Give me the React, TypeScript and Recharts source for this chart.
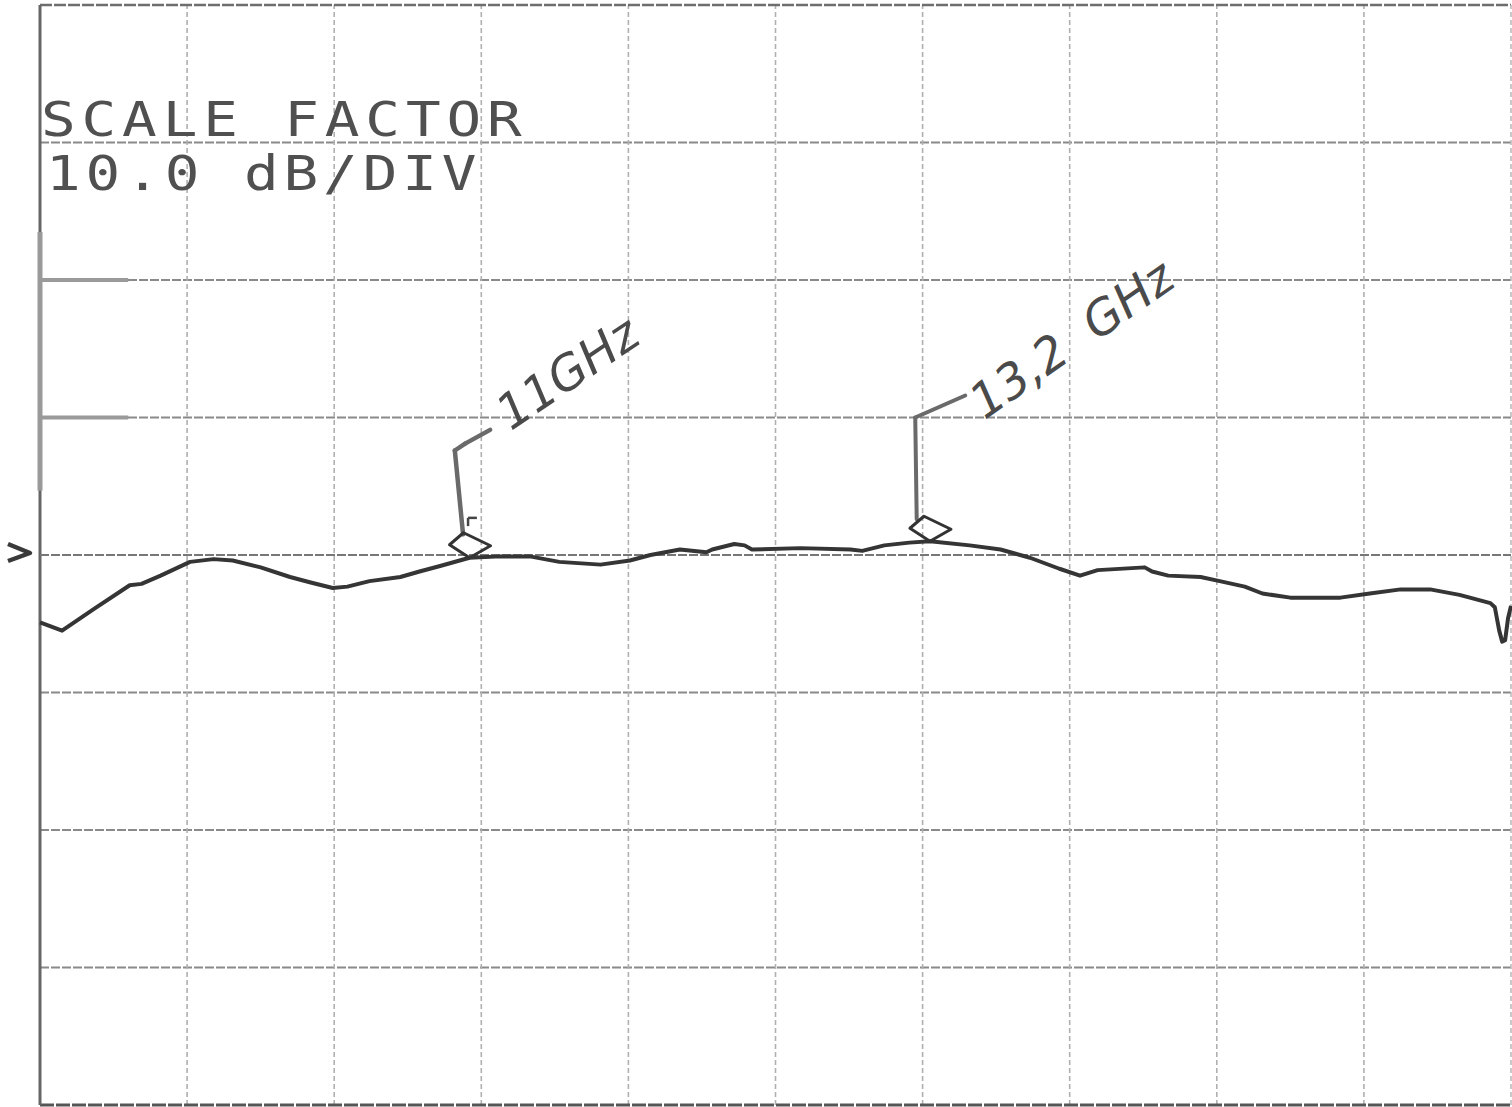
import React from 'react';
import { LineChart, Line, XAxis, YAxis, ReferenceLine, ReferenceDot } from 'recharts';

// Sweep position in screen divisions (0..10) and trace level in dB (10 dB/div, top = 0 dB)
const traceX = [
  0, 0.15, 0.37, 0.61, 0.69, 0.82, 1.02, 1.18, 1.31, 1.5, 1.7, 1.84, 1.99, 2.09, 2.24, 2.45,
  2.58, 2.72, 2.92, 3.13, 3.33, 3.53, 3.81, 4.01, 4.15, 4.35, 4.53, 4.57, 4.72, 4.79, 4.84,
  5.17, 5.51, 5.59, 5.74, 5.91, 6.05, 6.32, 6.53, 6.73, 6.93, 7.07, 7.19, 7.51, 7.56, 7.67,
  7.89, 8.02, 8.19, 8.31, 8.5, 8.84, 9.04, 9.25, 9.45, 9.65, 9.86, 9.89, 9.92, 9.94, 9.96,
  9.98, 10,
];
const traceDb = [
  -44.9, -45.5, -43.9, -42.2, -42.1, -41.5, -40.5, -40.3, -40.4, -40.9, -41.6, -42.0, -42.4,
  -42.3, -41.9, -41.6, -41.2, -40.8, -40.2, -40.1, -40.1, -40.5, -40.7, -40.4, -40.0, -39.6,
  -39.8, -39.6, -39.2, -39.3, -39.6, -39.5, -39.6, -39.7, -39.3, -39.1, -39.0, -39.3, -39.6,
  -40.2, -41.0, -41.5, -41.1, -40.9, -41.2, -41.5, -41.6, -41.9, -42.3, -42.8, -43.1, -43.1,
  -42.8, -42.5, -42.5, -42.9, -43.5, -43.8, -45.5, -46.3, -46.2, -44.6, -43.7,
];

const xGridTicks = [1, 2, 3, 4, 5, 6, 7, 8, 9];
const dbGridTicks = [-10, -20, -30, -40, -50, -60, -70];
const referenceLevelDb = -40;

const markerX = [2.92, 6.05];
const markerDb = [-40.2, -39.0];
const markerLabels = ['11GHz', '13,2  GHz'];
const markerLabelX = [3.2, 6.42];
const markerLabelDb = [-31.0, -30.2];
const markerLabelAngle = [-34, -35];

const titleLines = ['SCALE FACTOR', '10.0 dB/DIV'];

// hand-drawn leader strokes (data coordinates)
const leader11 = [
  { x: 2.876, y: -38.5 },
  { x: 2.82, y: -32.4 },
  { x: 2.89, y: -31.9 },
  { x: 3.06, y: -30.9 },
];
const tick11 = [
  { x: 2.91, y: -37.9 },
  { x: 2.91, y: -37.3 },
  { x: 2.97, y: -37.3 },
];
const leader13 = [
  { x: 5.96, y: -37.4 },
  { x: 5.95, y: -30.0 },
  { x: 6.29, y: -28.4 },
];

const data = traceX.map((x, i) => ({ x, db: traceDb[i] }));

const pairs = (pts: { x: number; y: number }[]) =>
  pts.slice(1).map((p, i) => [pts[i], p] as [{ x: number; y: number }, { x: number; y: number }]);

const Diamond = (props: any) => {
  const { cx, cy } = props;
  const pts = [
    [cx, cy],
    [cx - 20, cy - 13],
    [cx - 6, cy - 25],
    [cx + 21, cy - 12],
  ]
    .map((p) => p.join(','))
    .join(' ');
  return <polygon points={pts} fill="none" stroke="#333" strokeWidth={3} strokeLinejoin="round" />;
};

const RefArrow = (props: any) => {
  const { cx, cy } = props;
  return (
    <polyline
      points={`${cx - 32},${cy - 11} ${cx - 10},${cy - 2} ${cx - 32},${cy + 6}`}
      fill="none"
      stroke="#3a3a3a"
      strokeWidth={4.5}
      strokeLinejoin="round"
    />
  );
};

const handLabel = (text: string, angle: number) => (props: any) => {
  const { cx, cy } = props;
  return (
    <text
      x={cx}
      y={cy}
      transform={`rotate(${angle} ${cx} ${cy})`}
      fontFamily="'DejaVu Sans', sans-serif"
      fontStyle="italic"
      fontSize={48}
      fill="#4a4a4a"
      style={{ whiteSpace: 'pre' }}
    >
      {text}
    </text>
  );
};

export default function App() {
  const sx = 1.2;
  return (
    <div style={{ position: 'absolute', left: 0, top: 0, width: 1512, height: 1107, background: '#fff' }}>
      <LineChart width={1512} height={1107} data={data} margin={{ top: 5, right: 1, left: 40, bottom: 2 }}>
        <XAxis type="number" dataKey="x" domain={[0, 10]} hide />
        <YAxis type="number" domain={[-80, 0]} hide />
        {dbGridTicks.map((t) => (
          <ReferenceLine key={'h' + t} y={t} stroke="#8a8a8a" strokeWidth={2} strokeDasharray="9 2" />
        ))}
        {xGridTicks.map((t) => (
          <ReferenceLine key={'v' + t} x={t} stroke="#b0b0b0" strokeWidth={1.6} strokeDasharray="5 3" />
        ))}
        <ReferenceLine y={0} stroke="#6e6e6e" strokeWidth={2.5} strokeDasharray="12 2" />
        <ReferenceLine y={-80} stroke="#555" strokeWidth={3} strokeDasharray="14 2" />
        <ReferenceLine x={0} stroke="#666" strokeWidth={3} />
        <ReferenceLine x={10} stroke="#b8b8b8" strokeWidth={1.5} strokeDasharray="5 3" />
        <ReferenceLine segment={[{ x: 0, y: -16.5 }, { x: 0, y: -35.3 }]} stroke="#9a9a9a" strokeWidth={5} />
        <ReferenceLine segment={[{ x: 0, y: -20 }, { x: 0.6, y: -20 }]} stroke="#9a9a9a" strokeWidth={4} />
        <ReferenceLine segment={[{ x: 0, y: -30 }, { x: 0.6, y: -30 }]} stroke="#9a9a9a" strokeWidth={4} />
        <ReferenceLine y={referenceLevelDb} stroke="#777" strokeWidth={2} strokeDasharray="9 2" />

        <Line
          type="linear"
          dataKey="db"
          stroke="#353535"
          strokeWidth={4}
          dot={false}
          isAnimationActive={false}
          strokeLinejoin="round"
        />

        {pairs(leader11).map((s, i) => (
          <ReferenceLine key={'l11' + i} segment={s} stroke="#6a6a6a" strokeWidth={4.5} strokeLinecap="round" />
        ))}
        {pairs(tick11).map((s, i) => (
          <ReferenceLine key={'t11' + i} segment={s} stroke="#444" strokeWidth={2.5} />
        ))}
        {pairs(leader13).map((s, i) => (
          <ReferenceLine key={'l13' + i} segment={s} stroke="#6a6a6a" strokeWidth={4} strokeLinecap="round" />
        ))}

        {markerX.map((x, i) => (
          <ReferenceDot key={'m' + i} x={x} y={markerDb[i]} r={1} shape={Diamond} />
        ))}
        {markerLabels.map((lab, i) => (
          <ReferenceDot
            key={'ml' + i}
            x={markerLabelX[i]}
            y={markerLabelDb[i]}
            r={1}
            shape={handLabel(lab, markerLabelAngle[i])}
          />
        ))}
        <ReferenceDot x={0} y={referenceLevelDb} r={1} shape={RefArrow} />
      </LineChart>
      <svg
        width={1512}
        height={1107}
        style={{ position: 'absolute', left: 0, top: 0, pointerEvents: 'none' }}
      >
        <g transform={`scale(${sx},1)`}>
          <text x={41 / sx} y={136} fontFamily="'DejaVu Sans Mono', monospace" fontSize={48} letterSpacing={4.9} fill="#505050">
            {titleLines[0]}
          </text>
          <text x={46 / sx} y={190} fontFamily="'DejaVu Sans Mono', monospace" fontSize={48} letterSpacing={4.1} fill="#505050">
            {titleLines[1]}
          </text>
        </g>
      </svg>
    </div>
  );
}
